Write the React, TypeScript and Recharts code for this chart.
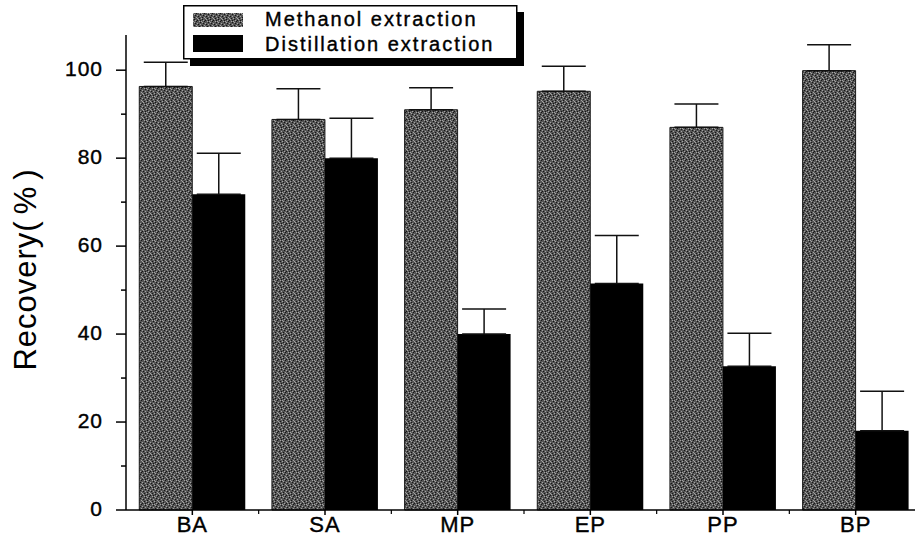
import React from "react";
import { Bar, BarChart, ErrorBar, Legend, XAxis, YAxis } from "recharts";

// Values (recovery, %), error bars are upper-only.
const categories = ["BA", "SA", "MP", "EP", "PP", "BP"];
const methanol = [96.3, 88.8, 91.0, 95.2, 87.0, 99.9];
const methanolErr = [5.5, 7.0, 5.0, 5.7, 5.3, 5.9];
const distillation = [71.8, 80.0, 40.0, 51.5, 32.7, 18.0];
const distillationErr = [9.3, 9.1, 5.7, 10.9, 7.5, 9.0];
const yTicks = [0, 10, 20, 30, 40, 50, 60, 70, 80, 90, 100];

const data = categories.map((name, i) => ({
  name,
  methanol: methanol[i],
  methanolErr: [0, methanolErr[i]],
  distillation: distillation[i],
  distillationErr: [0, distillationErr[i]],
}));

const FONT = "'Liberation Sans', Arial, Helvetica, sans-serif";
const INK = "#000";

// scanned-looking grey speckle for the methanol bars
const LIGHT_DOTS = [
  [0, 0], [2, 0], [3, 1], [6, 2], [1, 3], [5, 4], [2, 5], [6, 5], [7, 6], [4, 7],
];
const DARK_DOTS = [
  [5, 0], [1, 1], [4, 2], [7, 3], [3, 4], [0, 5], [3, 6], [6, 7], [1, 7],
];

function Speckle() {
  return (
    <defs>
      <pattern id="speckle" width={8} height={8} patternUnits="userSpaceOnUse">
        <rect width={8} height={8} fill="#565656" />
        {LIGHT_DOTS.map(([x, y]) => (
          <rect key={`l${x}-${y}`} x={x} y={y} width={1} height={1} fill="#a4a4a4" />
        ))}
        {DARK_DOTS.map(([x, y]) => (
          <rect key={`d${x}-${y}`} x={x} y={y} width={1} height={1} fill="#161616" />
        ))}
      </pattern>
    </defs>
  );
}

// text in the scan is heavy, a hairline stroke thickens it a little
const textStyle = {
  fontFamily: FONT,
  fill: INK,
  stroke: INK,
  strokeWidth: 0.4,
};

function YTick(props: any) {
  const { x, y, payload } = props;
  const major = payload.value % 20 === 0;
  return (
    <g>
      <line x1={x - (major ? 10 : 5)} x2={x} y1={y} y2={y} stroke={INK} strokeWidth={1.5} />
      {major && (
        <text
          x={x - 23}
          y={y + 6}
          textAnchor="end"
          fontSize={21}
          letterSpacing={1}
          style={textStyle}
        >
          {payload.value}
        </text>
      )}
    </g>
  );
}

function XTick(props: any) {
  const { x, y, payload } = props;
  const half = payload.offset ?? 0;
  return (
    <g>
      <line x1={x} x2={x} y1={y} y2={y + 5} stroke={INK} strokeWidth={1.5} />
      {half > 0 && (
        <line x1={x + half} x2={x + half} y1={y} y2={y + 4} stroke={INK} strokeWidth={1.2} />
      )}
      <text
        x={x}
        y={y + 22}
        textAnchor="middle"
        fontSize={22}
        letterSpacing={1}
        style={textStyle}
      >
        {payload.value}
      </text>
    </g>
  );
}

function YLabel(props: any) {
  const vb = props.viewBox ?? { y: 35, height: 475 };
  const cy = vb.y + vb.height / 2 - 6;
  const bx = 36;
  return (
    <text
      transform={`rotate(-90, ${bx}, ${cy})`}
      x={bx}
      y={cy}
      textAnchor="middle"
      fontSize={31}
      letterSpacing={1}
      style={{ fontFamily: FONT, fill: INK }}
    >
      Recovery<tspan letterSpacing={7}>(%)</tspan>
    </text>
  );
}

function LegendBox() {
  return (
    <svg width={345} height={66} style={{ display: "block" }}>
      <rect x={7} y={7} width={334} height={54} fill={INK} />
      <rect x={0.75} y={0.75} width={333} height={53} fill="#fff" stroke={INK} strokeWidth={1.5} />
      <rect x={10} y={8} width={50} height={14} fill="url(#speckle)" />
      <rect x={10} y={30} width={50} height={17} fill={INK} />
      <text x={82} y={21} fontSize={20} letterSpacing={2} style={textStyle}>
        Methanol extraction
      </text>
      <text x={82} y={46} fontSize={20} letterSpacing={2} style={textStyle}>
        Distillation extraction
      </text>
    </svg>
  );
}

export default function App() {
  return (
    <div
      style={{
        position: "absolute",
        left: 0,
        top: 0,
        width: 915,
        height: 538,
        overflow: "hidden",
        background: "#fff",
      }}
    >
      <BarChart
        width={922}
        height={538}
        data={data}
        margin={{ top: 35, right: 0, bottom: 0, left: 0 }}
        barCategoryGap="10%"
        barGap={0}
      >
        <Speckle />
        <XAxis
          dataKey="name"
          height={28}
          axisLine={{ stroke: INK, strokeWidth: 1.5 }}
          tickLine={false}
          tickSize={0}
          tickMargin={0}
          interval={0}
          tick={<XTick />}
        />
        <YAxis
          width={126}
          domain={[0, 108]}
          ticks={yTicks}
          interval={0}
          axisLine={{ stroke: INK, strokeWidth: 1.5 }}
          tickLine={false}
          tickSize={0}
          tickMargin={0}
          tick={<YTick />}
          label={{ content: <YLabel /> }}
        />
        <Legend
          layout="horizontal"
          verticalAlign="middle"
          align="center"
          wrapperStyle={{ left: 183, top: 5, width: 345, height: 66 }}
          content={() => <LegendBox />}
        />
        <Bar
          dataKey="methanol"
          name="Methanol extraction"
          fill="url(#speckle)"
          stroke="#1a1a1a"
          strokeWidth={1}
          isAnimationActive={false}
        >
          <ErrorBar
            dataKey="methanolErr"
            direction="y"
            width={22}
            stroke="#111"
            strokeWidth={1.5}
            isAnimationActive={false}
          />
        </Bar>
        <Bar
          dataKey="distillation"
          name="Distillation extraction"
          fill={INK}
          isAnimationActive={false}
        >
          <ErrorBar
            dataKey="distillationErr"
            direction="y"
            width={22}
            stroke="#111"
            strokeWidth={1.5}
            isAnimationActive={false}
          />
        </Bar>
      </BarChart>
    </div>
  );
}
